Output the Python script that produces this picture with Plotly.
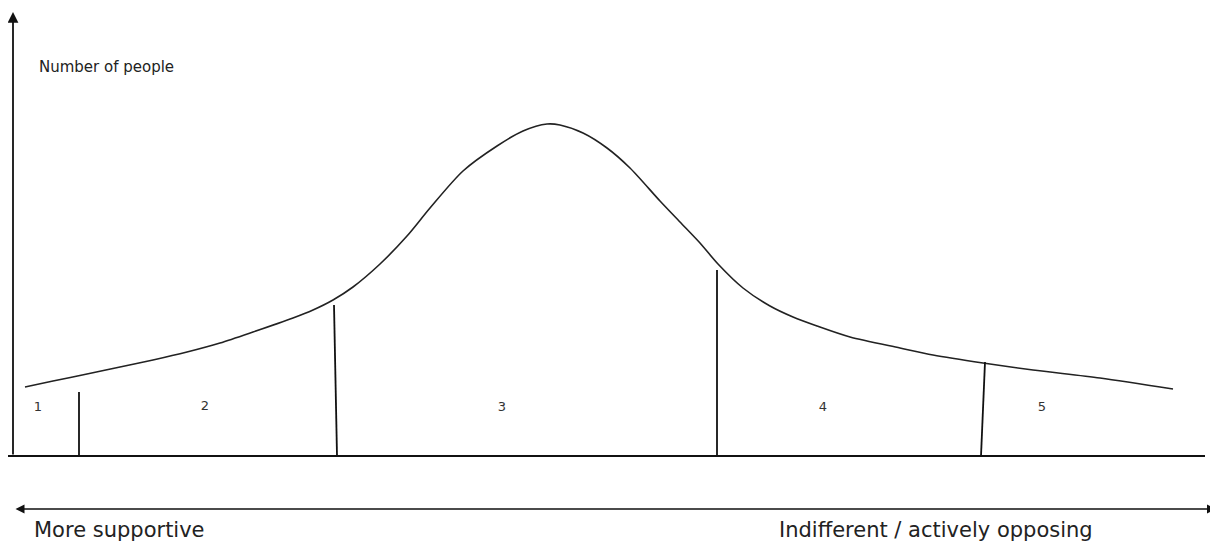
import plotly.graph_objects as go

# Curve (pixel-space coordinates of the diagram)
curve_x = [25, 53, 87, 120, 153, 187, 220, 253, 293, 313, 333, 353, 380, 407, 430,
           463, 497, 523, 547, 560, 583, 607, 630, 660, 680, 700, 718, 743, 770,
           793, 817, 850, 900, 933, 983, 1033, 1100, 1173]
curve_y = [387, 381, 374, 367, 360, 352, 343, 332, 318, 310, 300, 287, 264, 236, 208,
           171, 146, 131, 124, 125, 133, 148, 168, 201, 222, 243, 264, 288, 306,
           317, 326, 337, 348, 355, 363, 370, 378, 389]

# Segment dividers: (x at top, y top, x at bottom)
div_x_top = [79, 334, 717, 985]
div_y_top = [392, 305, 270, 362]
div_x_bot = [79, 337, 717, 981]

# Segment labels
seg_labels = ["1", "2", "3", "4", "5"]
seg_x = [38, 205, 502, 823, 1042]
seg_y = [408, 407, 408, 408, 408]

axis_title = "Number of people"
left_label = "More supportive"
right_label = "Indifferent / actively opposing"

# page body has an 8px margin; map reference pixels to screen pixels
OFF = 8
W, H = 1218 - OFF, 546 - OFF
BASE_Y = 456

fig = go.Figure()

fig.add_trace(go.Scatter(x=curve_x, y=curve_y, mode="lines",
                         line=dict(color="#222", width=1.6, shape="spline", smoothing=0.8),
                         hoverinfo="skip", showlegend=False))

for xt, yt, xb in zip(div_x_top, div_y_top, div_x_bot):
    fig.add_trace(go.Scatter(x=[xt, xb], y=[yt, BASE_Y], mode="lines",
                             line=dict(color="#111", width=1.8),
                             hoverinfo="skip", showlegend=False))

# baseline
fig.add_trace(go.Scatter(x=[8, 1205], y=[BASE_Y, BASE_Y], mode="lines",
                         line=dict(color="#111", width=1.8),
                         hoverinfo="skip", showlegend=False))

fig.add_trace(go.Scatter(x=seg_x, y=seg_y, mode="text", text=seg_labels,
                         textfont=dict(family="DejaVu Sans", size=13, color="#333"),
                         hoverinfo="skip", showlegend=False))

annotations = [
    # vertical axis arrow
    dict(x=13, y=12, ax=13, ay=BASE_Y, xref="x", yref="y", axref="x", ayref="y",
         showarrow=True, arrowhead=2, arrowsize=1.2, arrowwidth=1.8, arrowcolor="#111", text=""),
    # double-headed horizontal arrow
    dict(x=1216, y=509, ax=14, ay=509, xref="x", yref="y", axref="x", ayref="y",
         showarrow=True, arrowhead=2, startarrowhead=2, arrowside="end+start",
         arrowsize=1.2, arrowwidth=1.5, arrowcolor="#111", text=""),
    dict(x=37, y=67, xref="x", yref="y", text=axis_title, showarrow=False,
         xanchor="left", yanchor="middle",
         font=dict(family="DejaVu Sans", size=15, color="#222")),
    dict(x=32, y=530, xref="x", yref="y", text=left_label, showarrow=False,
         xanchor="left", yanchor="middle",
         font=dict(family="DejaVu Sans", size=21, color="#222")),
    dict(x=777, y=530, xref="x", yref="y", text=right_label, showarrow=False,
         xanchor="left", yanchor="middle",
         font=dict(family="DejaVu Sans", size=21, color="#222")),
]

fig.update_layout(
    width=W, height=H,
    margin=dict(l=0, r=0, t=0, b=0),
    paper_bgcolor="white", plot_bgcolor="white",
    xaxis=dict(range=[OFF, 1218], visible=False, fixedrange=True),
    yaxis=dict(range=[546, OFF], visible=False, fixedrange=True),
    annotations=annotations,
)

fig.write_html("out.html")
